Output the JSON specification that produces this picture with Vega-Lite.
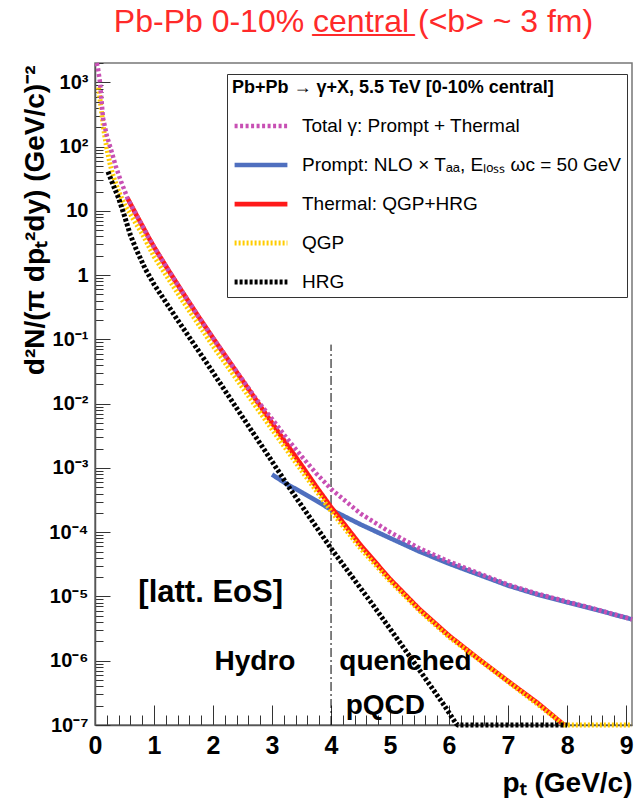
{
  "$schema": "https://vega.github.io/schema/vega-lite/v6.json",
  "width": 537,
  "height": 662,
  "autosize": "none",
  "padding": {"left": 95, "top": 63, "right": 4, "bottom": 78},
  "config": {"view": {"stroke": "#777", "strokeWidth": 1.5}, "font": "Liberation Sans"},
  "title": {"text": "Pb-Pb 0-10% c̲e̲n̲t̲r̲a̲l̲ (<b> ~ 3 fm)", "font": "Liberation Sans", "fontSize": 32, "fontWeight": "normal", "color": "#ff2a2a", "anchor": "middle", "offset": 15, "dx": -10},
  "datasets": {
    "curves": [
      {"series": "Prompt", "pT": 3.0, "v": 7.9e-4},
      {"series": "Prompt", "pT": 3.25, "v": 5.6e-4},
      {"series": "Prompt", "pT": 3.5, "v": 4.2e-4},
      {"series": "Prompt", "pT": 3.75, "v": 3.1e-4},
      {"series": "Prompt", "pT": 4.0, "v": 2.24e-4},
      {"series": "Prompt", "pT": 4.5, "v": 1.32e-4},
      {"series": "Prompt", "pT": 5.0, "v": 8.1e-5},
      {"series": "Prompt", "pT": 5.5, "v": 5.0e-5},
      {"series": "Prompt", "pT": 6.0, "v": 3.24e-5},
      {"series": "Prompt", "pT": 6.5, "v": 2.19e-5},
      {"series": "Prompt", "pT": 7.0, "v": 1.48e-5},
      {"series": "Prompt", "pT": 7.5, "v": 1.07e-5},
      {"series": "Prompt", "pT": 8.0, "v": 8.1e-6},
      {"series": "Prompt", "pT": 8.5, "v": 6.2e-6},
      {"series": "Prompt", "pT": 9.1, "v": 4.4e-6},
      {"series": "Thermal", "pT": 0.55, "v": 15.8},
      {"series": "Thermal", "pT": 0.6, "v": 12.9},
      {"series": "Thermal", "pT": 0.7, "v": 8.7},
      {"series": "Thermal", "pT": 0.8, "v": 5.9},
      {"series": "Thermal", "pT": 0.9, "v": 3.98},
      {"series": "Thermal", "pT": 1.0, "v": 2.75},
      {"series": "Thermal", "pT": 1.25, "v": 1.17},
      {"series": "Thermal", "pT": 1.5, "v": 0.513},
      {"series": "Thermal", "pT": 1.75, "v": 0.229},
      {"series": "Thermal", "pT": 2.0, "v": 0.105},
      {"series": "Thermal", "pT": 2.25, "v": 0.049},
      {"series": "Thermal", "pT": 2.5, "v": 0.0229},
      {"series": "Thermal", "pT": 2.75, "v": 0.0107},
      {"series": "Thermal", "pT": 3.0, "v": 5.0e-3},
      {"series": "Thermal", "pT": 3.25, "v": 2.34e-3},
      {"series": "Thermal", "pT": 3.5, "v": 1.1e-3},
      {"series": "Thermal", "pT": 3.75, "v": 5.1e-4},
      {"series": "Thermal", "pT": 4.0, "v": 2.45e-4},
      {"series": "Thermal", "pT": 4.5, "v": 6.3e-5},
      {"series": "Thermal", "pT": 5.0, "v": 1.86e-5},
      {"series": "Thermal", "pT": 5.5, "v": 6.3e-6},
      {"series": "Thermal", "pT": 6.0, "v": 2.45e-6},
      {"series": "Thermal", "pT": 6.5, "v": 1.07e-6},
      {"series": "Thermal", "pT": 7.0, "v": 4.8e-7},
      {"series": "Thermal", "pT": 7.5, "v": 2.2e-7},
      {"series": "Thermal", "pT": 7.95, "v": 1.0e-7},
      {"series": "QGP", "pT": 0.06, "v": 832},
      {"series": "QGP", "pT": 0.1, "v": 417},
      {"series": "QGP", "pT": 0.15, "v": 178},
      {"series": "QGP", "pT": 0.2, "v": 93},
      {"series": "QGP", "pT": 0.25, "v": 56},
      {"series": "QGP", "pT": 0.3, "v": 37},
      {"series": "QGP", "pT": 0.4, "v": 20},
      {"series": "QGP", "pT": 0.5, "v": 12.6},
      {"series": "QGP", "pT": 0.6, "v": 8.9},
      {"series": "QGP", "pT": 0.7, "v": 6.2},
      {"series": "QGP", "pT": 0.8, "v": 4.4},
      {"series": "QGP", "pT": 1.0, "v": 1.95},
      {"series": "QGP", "pT": 1.5, "v": 0.38},
      {"series": "QGP", "pT": 2.0, "v": 0.079},
      {"series": "QGP", "pT": 2.5, "v": 0.0178},
      {"series": "QGP", "pT": 3.0, "v": 3.98e-3},
      {"series": "QGP", "pT": 3.5, "v": 9.1e-4},
      {"series": "QGP", "pT": 4.0, "v": 2.14e-4},
      {"series": "QGP", "pT": 4.5, "v": 5.6e-5},
      {"series": "QGP", "pT": 5.0, "v": 1.74e-5},
      {"series": "QGP", "pT": 5.5, "v": 6.0e-6},
      {"series": "QGP", "pT": 6.0, "v": 2.34e-6},
      {"series": "QGP", "pT": 6.5, "v": 1.05e-6},
      {"series": "QGP", "pT": 7.0, "v": 4.7e-7},
      {"series": "QGP", "pT": 7.5, "v": 2.1e-7},
      {"series": "QGP", "pT": 7.95, "v": 1.0e-7},
      {"series": "QGP", "pT": 9.1, "v": 1.0e-7},
      {"series": "HRG", "pT": 0.22, "v": 40.7},
      {"series": "HRG", "pT": 0.3, "v": 26.3},
      {"series": "HRG", "pT": 0.4, "v": 15.8},
      {"series": "HRG", "pT": 0.5, "v": 8.3},
      {"series": "HRG", "pT": 0.6, "v": 4.2},
      {"series": "HRG", "pT": 0.7, "v": 2.5},
      {"series": "HRG", "pT": 0.85, "v": 1.26},
      {"series": "HRG", "pT": 1.0, "v": 0.72},
      {"series": "HRG", "pT": 1.4, "v": 0.2},
      {"series": "HRG", "pT": 1.9, "v": 0.042},
      {"series": "HRG", "pT": 2.4, "v": 8.5e-3},
      {"series": "HRG", "pT": 2.9, "v": 1.74e-3},
      {"series": "HRG", "pT": 3.3, "v": 4.8e-4},
      {"series": "HRG", "pT": 4.0, "v": 5.6e-5},
      {"series": "HRG", "pT": 4.7, "v": 7.6e-6},
      {"series": "HRG", "pT": 5.38, "v": 1.02e-6},
      {"series": "HRG", "pT": 5.89, "v": 2.2e-7},
      {"series": "HRG", "pT": 6.12, "v": 1.05e-7},
      {"series": "HRG", "pT": 6.15, "v": 1.0e-7},
      {"series": "HRG", "pT": 8.0, "v": 1.0e-7},
      {"series": "Total", "pT": 0.03, "v": 1995},
      {"series": "Total", "pT": 0.05, "v": 1660},
      {"series": "Total", "pT": 0.085, "v": 1000},
      {"series": "Total", "pT": 0.135, "v": 282},
      {"series": "Total", "pT": 0.2, "v": 148},
      {"series": "Total", "pT": 0.27, "v": 91},
      {"series": "Total", "pT": 0.35, "v": 50},
      {"series": "Total", "pT": 0.44, "v": 28.8},
      {"series": "Total", "pT": 0.5, "v": 20.9},
      {"series": "Total", "pT": 0.55, "v": 15.8},
      {"series": "Total", "pT": 0.6, "v": 12.9},
      {"series": "Total", "pT": 0.7, "v": 8.7},
      {"series": "Total", "pT": 0.8, "v": 5.9},
      {"series": "Total", "pT": 0.9, "v": 3.98},
      {"series": "Total", "pT": 1.0, "v": 2.75},
      {"series": "Total", "pT": 1.25, "v": 1.17},
      {"series": "Total", "pT": 1.5, "v": 0.513},
      {"series": "Total", "pT": 1.75, "v": 0.229},
      {"series": "Total", "pT": 2.0, "v": 0.105},
      {"series": "Total", "pT": 2.25, "v": 0.049},
      {"series": "Total", "pT": 2.5, "v": 0.0235},
      {"series": "Total", "pT": 2.75, "v": 0.0112},
      {"series": "Total", "pT": 3.0, "v": 5.8e-3},
      {"series": "Total", "pT": 3.25, "v": 2.9e-3},
      {"series": "Total", "pT": 3.5, "v": 1.52e-3},
      {"series": "Total", "pT": 3.75, "v": 8.2e-4},
      {"series": "Total", "pT": 4.0, "v": 4.7e-4},
      {"series": "Total", "pT": 4.5, "v": 1.95e-4},
      {"series": "Total", "pT": 5.0, "v": 1.0e-4},
      {"series": "Total", "pT": 5.5, "v": 5.6e-5},
      {"series": "Total", "pT": 6.0, "v": 3.5e-5},
      {"series": "Total", "pT": 6.5, "v": 2.3e-5},
      {"series": "Total", "pT": 7.0, "v": 1.53e-5},
      {"series": "Total", "pT": 7.5, "v": 1.1e-5},
      {"series": "Total", "pT": 8.0, "v": 8.3e-6},
      {"series": "Total", "pT": 8.5, "v": 6.3e-6},
      {"series": "Total", "pT": 9.1, "v": 4.4e-6}
    ],
    "notes": [
      {"label": "Hydro", "pT": 2.71, "v": 9.5e-7},
      {"label": "quenched", "pT": 5.26, "v": 9.5e-7},
      {"label": "pQCD", "pT": 4.92, "v": 2.0e-7}
    ],
    "notes2": [
      {"label": "[latt. EoS]", "pT": 1.96, "v": 1.15e-5}
    ],
    "divider": [
      {"pT": 4, "lo": 1e-7, "hi": 0.083}
    ]
  },
  "layer": [
    {
      "data": {"name": "divider"},
      "mark": {"type": "point", "opacity": 0},
      "encoding": {
        "x": {"field": "pT", "type": "quantitative", "scale": {"domain": [0, 9.1], "nice": false, "zero": false},
          "axis": {"orient": "bottom", "values": [0.2,0.4,0.6,0.8,1.2,1.4,1.6,1.8,2.2,2.4,2.6,2.8,3.2,3.4,3.6,3.8,4.2,4.4,4.6,4.8,5.2,5.4,5.6,5.8,6.2,6.4,6.6,6.8,7.2,7.4,7.6,7.8,8.2,8.4,8.6,8.8], "tickSize": -10, "tickColor": "#333", "tickWidth": 1, "labels": false, "domain": false, "grid": false, "title": null}},
        "y": {"field": "hi", "type": "quantitative", "scale": {"type": "log", "domain": [1e-7, 2000], "nice": false},
          "axis": {"orient": "left", "values": [2e-7,3e-7,4e-7,5e-7,6e-7,7e-7,8e-7,9e-7,2e-6,3e-6,4e-6,5e-6,6e-6,7e-6,8e-6,9e-6,2e-5,3e-5,4e-5,5e-5,6e-5,7e-5,8e-5,9e-5,2e-4,3e-4,4e-4,5e-4,6e-4,7e-4,8e-4,9e-4,2e-3,3e-3,4e-3,5e-3,6e-3,7e-3,8e-3,9e-3,0.02,0.03,0.04,0.05,0.06,0.07,0.08,0.09,0.2,0.3,0.4,0.5,0.6,0.7,0.8,0.9,2,3,4,5,6,7,8,9,20,30,40,50,60,70,80,90,200,300,400,500,600,700,800,900,2000], "tickSize": -8, "tickColor": "#333", "tickWidth": 1, "labels": false, "domain": false, "grid": false, "title": null}}
      }
    },
    {
      "data": {"name": "divider"},
      "mark": {"type": "point", "opacity": 0},
      "encoding": {
        "x": {"field": "pT", "type": "quantitative", "scale": {"domain": [0, 9.1], "nice": false, "zero": false},
          "axis": {"orient": "bottom", "values": [0,1,2,3,4,5,6,7,8,9], "tickSize": -20, "tickColor": "#333", "tickWidth": 1, "labels": false, "domain": false, "grid": false, "title": null}},
        "y": {"field": "hi", "type": "quantitative", "scale": {"type": "log", "domain": [1e-7, 2000], "nice": false},
          "axis": {"orient": "left", "values": [1e-7,1e-6,1e-5,1e-4,1e-3,0.01,0.1,1,10,100,1000], "tickSize": -15, "tickColor": "#333", "tickWidth": 1, "labels": false, "domain": false, "grid": false, "title": null}}
      }
    },
    {
      "data": {"name": "notes"},
      "mark": {"type": "text", "font": "Liberation Sans", "fontWeight": "bold", "fontSize": 28, "color": "#000", "baseline": "middle", "align": "center"},
      "encoding": {
        "x": {"field": "pT", "type": "quantitative", "scale": {"domain": [0, 9.1], "nice": false, "zero": false},
          "axis": {"orient": "bottom", "values": [0,1,2,3,4,5,6,7,8,9], "ticks": false, "domain": true, "domainColor": "#555", "domainWidth": 1.5, "grid": false, "labelFont": "Liberation Sans", "labelFontWeight": "bold", "labelFontSize": 25, "labelColor": "#000", "labelPadding": 8, "labelFlush": false, "labelOverlap": false,
            "title": "pₜ (GeV/c)", "titleFont": "Liberation Sans", "titleFontWeight": "bold", "titleFontSize": 28, "titleColor": "#000", "titleAnchor": "end", "titleAlign": "right", "titleBaseline": "middle", "titleX": 537, "titleY": 58}},
        "y": {"field": "v", "type": "quantitative", "scale": {"type": "log", "domain": [1e-7, 2000], "nice": false},
          "axis": {"orient": "left", "values": [1e-7,1e-6,1e-5,1e-4,1e-3,0.01,0.1,1,10,100,1000], "ticks": false, "domain": true, "domainColor": "#555", "domainWidth": 1.5, "grid": false, "labelFont": "Liberation Sans", "labelFontWeight": "bold", "labelFontSize": 20, "labelColor": "#000", "labelPadding": 7, "labelFlush": false, "labelOverlap": false,
            "labelExpr": "round(log(datum.value)/LN10) == 0 ? '1' : round(log(datum.value)/LN10) == 1 ? '10' : '10' + ['⁻⁷','⁻⁶','⁻⁵','⁻⁴','⁻³','⁻²','⁻¹','','','²','³'][round(log(datum.value)/LN10) + 7]",
            "title": "d²N/(π dpₜ²dy) (GeV/c)⁻²", "titleFont": "Liberation Sans", "titleFontWeight": "bold", "titleFontSize": 28, "titleColor": "#000", "titleAnchor": "end", "titleAngle": -90, "titleAlign": "right", "titleBaseline": "middle", "titleX": -60, "titleY": 2}},
        "text": {"field": "label", "type": "nominal"}
      }
    },
    {
      "data": {"name": "notes2"},
      "mark": {"type": "text", "font": "Liberation Sans", "fontWeight": "bold", "fontSize": 31, "color": "#000", "baseline": "middle", "align": "center"},
      "encoding": {
        "x": {"field": "pT", "type": "quantitative", "scale": {"domain": [0, 9.1], "nice": false, "zero": false}, "axis": null},
        "y": {"field": "v", "type": "quantitative", "scale": {"type": "log", "domain": [1e-7, 2000], "nice": false}, "axis": null},
        "text": {"field": "label", "type": "nominal"}
      }
    },
    {
      "data": {"name": "divider"},
      "mark": {"type": "rule", "color": "#000", "strokeWidth": 1, "strokeDash": [9, 3, 2, 3]},
      "encoding": {
        "x": {"field": "pT", "type": "quantitative", "scale": {"domain": [0, 9.1], "nice": false, "zero": false}, "axis": null},
        "y": {"field": "lo", "type": "quantitative", "scale": {"type": "log", "domain": [1e-7, 2000], "nice": false}, "axis": null},
        "y2": {"field": "hi"}
      }
    },
    {
      "data": {"name": "curves"},
      "transform": [{"filter": "datum.series == 'Prompt'"}],
      "mark": {"type": "line", "strokeCap": "butt"},
      "encoding": {
        "x": {"field": "pT", "type": "quantitative", "scale": {"domain": [0, 9.1], "nice": false, "zero": false}, "axis": null},
        "y": {"field": "v", "type": "quantitative", "scale": {"type": "log", "domain": [1e-7, 2000], "nice": false}, "axis": null},
        "color": {"field": "series", "type": "nominal",
          "scale": {"domain": ["Total", "Prompt", "Thermal", "QGP", "HRG"], "range": ["#c850b4", "#4f6fbf", "#ff1a1a", "#ffcc00", "#000000"]},
          "legend": {"orient": "none", "legendX": 132, "legendY": 11, "title": "Pb+Pb → γ+X, 5.5 TeV  [0-10% central]", "titleFont": "Liberation Sans", "titleFontSize": 18, "titleFontWeight": "bold", "titleColor": "#000", "titleLimit": 500, "titlePadding": 0, "labelFont": "Liberation Sans", "labelFontSize": 19, "labelColor": "#000", "labelOffset": 12, "labelLimit": 500, "symbolType": "stroke", "symbolSize": 2790, "rowPadding": 0, "padding": 5, "strokeColor": "#333", "fillColor": "#ffffff",
            "labelExpr": "datum.label == 'Total' ? 'Total γ: Prompt + Thermal' : datum.label == 'Prompt' ? 'Prompt: NLO × Tₐₐ, Eₗₒₛₛ ωc = 50 GeV' : datum.label == 'Thermal' ? 'Thermal: QGP+HRG' : datum.label"}},
        "strokeDash": {"field": "series", "type": "nominal", "scale": {"domain": ["Total", "Prompt", "Thermal", "QGP", "HRG"], "range": [[3, 2.5], [1, 0], [1, 0], [2, 2], [3, 2]]}},
        "strokeWidth": {"field": "series", "type": "ordinal", "scale": {"domain": ["Total", "Prompt", "Thermal", "QGP", "HRG"], "range": [4.5, 5, 4, 2.5, 4]}}
      }
    },
    {
      "data": {"name": "curves"},
      "transform": [{"filter": "datum.series == 'Thermal'"}],
      "mark": {"type": "line", "strokeCap": "butt"},
      "encoding": {
        "x": {"field": "pT", "type": "quantitative", "scale": {"domain": [0, 9.1], "nice": false, "zero": false}, "axis": null},
        "y": {"field": "v", "type": "quantitative", "scale": {"type": "log", "domain": [1e-7, 2000], "nice": false}, "axis": null},
        "color": {"field": "series", "type": "nominal"},
        "strokeDash": {"field": "series", "type": "nominal"},
        "strokeWidth": {"field": "series", "type": "ordinal"}
      }
    },
    {
      "data": {"name": "curves"},
      "transform": [{"filter": "datum.series == 'QGP'"}],
      "mark": {"type": "line", "strokeCap": "butt"},
      "encoding": {
        "x": {"field": "pT", "type": "quantitative", "scale": {"domain": [0, 9.1], "nice": false, "zero": false}, "axis": null},
        "y": {"field": "v", "type": "quantitative", "scale": {"type": "log", "domain": [1e-7, 2000], "nice": false}, "axis": null},
        "color": {"field": "series", "type": "nominal"},
        "strokeDash": {"field": "series", "type": "nominal"},
        "strokeWidth": {"field": "series", "type": "ordinal"}
      }
    },
    {
      "data": {"name": "curves"},
      "transform": [{"filter": "datum.series == 'HRG'"}],
      "mark": {"type": "line", "strokeCap": "butt"},
      "encoding": {
        "x": {"field": "pT", "type": "quantitative", "scale": {"domain": [0, 9.1], "nice": false, "zero": false}, "axis": null},
        "y": {"field": "v", "type": "quantitative", "scale": {"type": "log", "domain": [1e-7, 2000], "nice": false}, "axis": null},
        "color": {"field": "series", "type": "nominal"},
        "strokeDash": {"field": "series", "type": "nominal"},
        "strokeWidth": {"field": "series", "type": "ordinal"}
      }
    },
    {
      "data": {"name": "curves"},
      "transform": [{"filter": "datum.series == 'Total'"}],
      "mark": {"type": "line", "strokeCap": "butt"},
      "encoding": {
        "x": {"field": "pT", "type": "quantitative", "scale": {"domain": [0, 9.1], "nice": false, "zero": false}, "axis": null},
        "y": {"field": "v", "type": "quantitative", "scale": {"type": "log", "domain": [1e-7, 2000], "nice": false}, "axis": null},
        "color": {"field": "series", "type": "nominal"},
        "strokeDash": {"field": "series", "type": "nominal"},
        "strokeWidth": {"field": "series", "type": "ordinal"}
      }
    }
  ],
  "resolve": {"axis": {"x": "independent", "y": "independent"}}
}
